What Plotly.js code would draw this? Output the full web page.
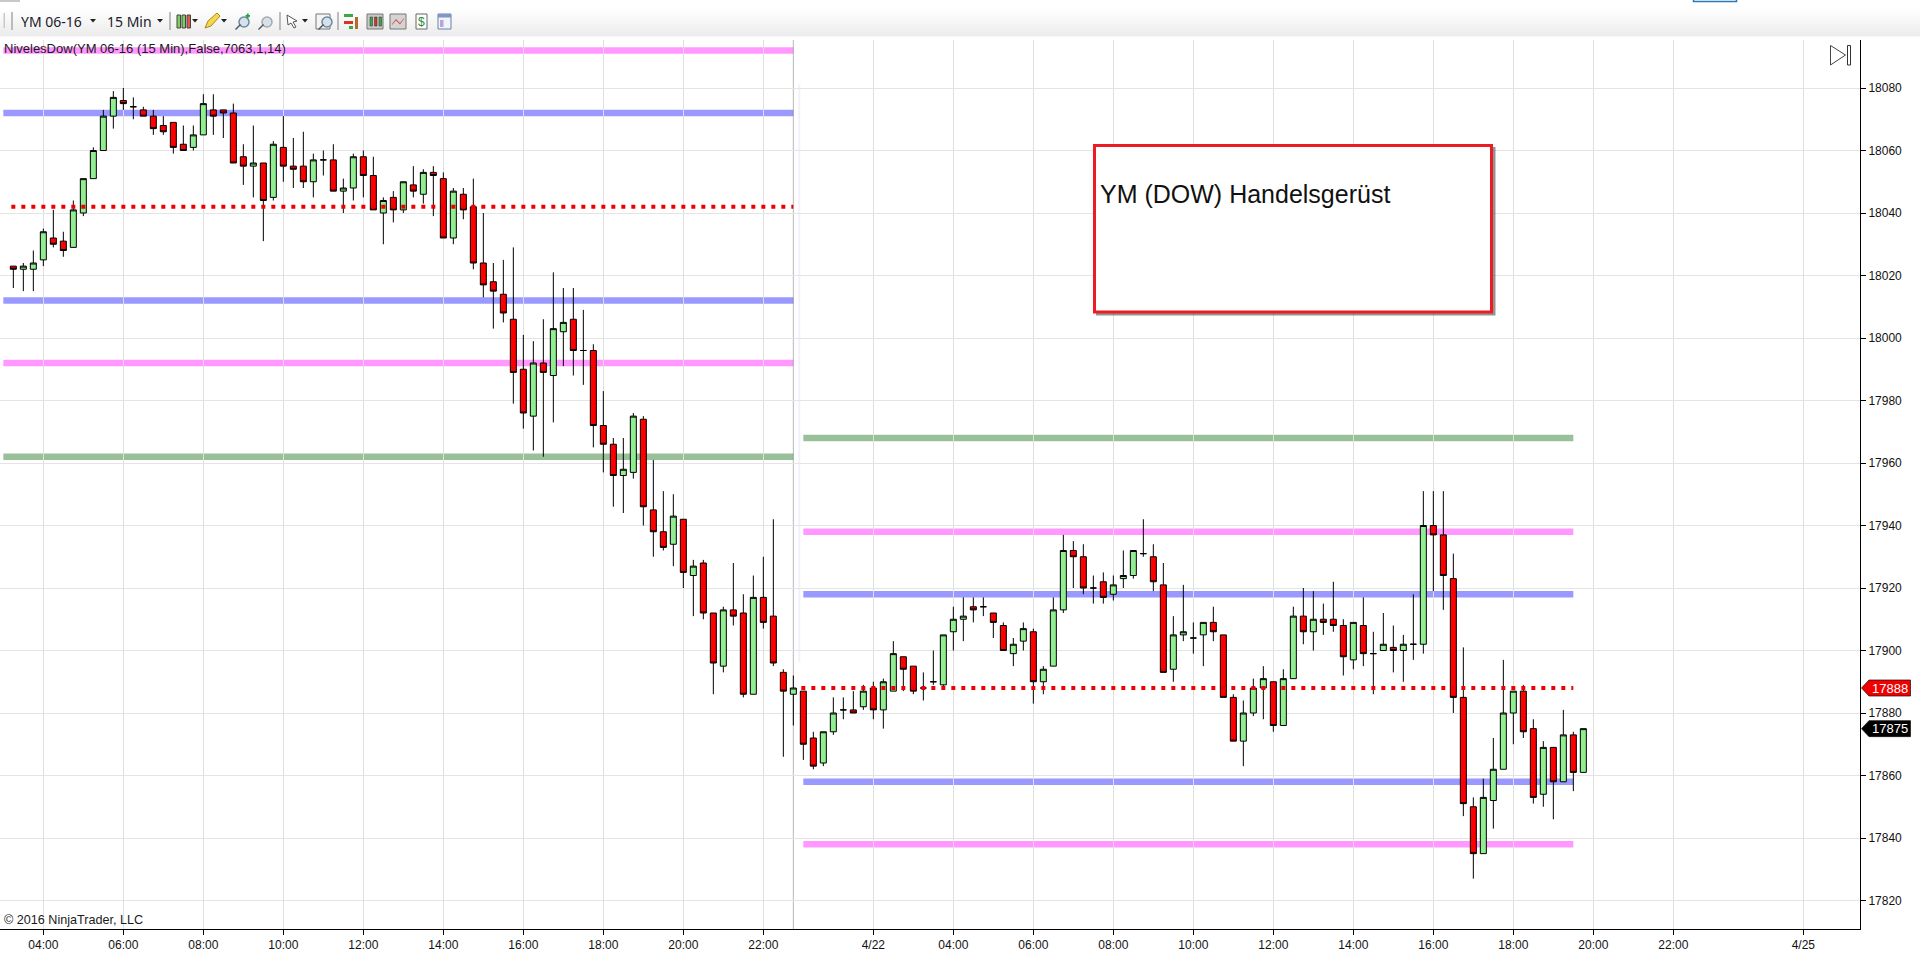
<!DOCTYPE html>
<html>
<head>
<meta charset="utf-8">
<script src="https://cdn.plot.ly/plotly-3.0.1.min.js"></script>
<style>html,body{margin:0;padding:0;background:#fff;overflow:hidden}#chart{width:1920px;height:957px}</style>
</head>
<body>
<div id="chart"></div>
<script>
// ---------- data (one entry per 15-minute bar) ----------
const open = [18023,18022,18022,18025,18032,18031,18029,18040,18051,18060,18071,18076,18074,18073,18071,18068,18069,18062,18061,18065,
18073,18073,18072,18058,18055,18056,18045,18061,18055,18055,18050,18057,18057,18047,18048,18058,18052,18040,18045,18041,
18049,18046,18053,18051,18032,18046,18042,18024,18018,18014,18006,17990,17975,17992,17988,18002,18006,17996,17996,17972,
17966,17956,17957,17974,17945,17938,17934,17942,17924,17928,17912,17895,17913,17912,17886,17917,17911,17893,17886,17887,
17872,17864,17874,17881,17881,17882,17888,17881,17887,17898,17895,17888,17890,17889,17906,17910,17914,17914,17912,17908,
17899,17903,17906,17890,17895,17913,17932,17930,17920,17922,17918,17923,17924,17931,17930,17921,17894,17905,17904,17905,
17909,17905,17885,17871,17880,17888,17890,17876,17891,17911,17906,17910,17910,17908,17897,17908,17899,17900,17901,17900,
17902,17902,17940,17937,17923,17885,17850,17835,17852,17862,17880,17887,17875,17854,17869,17858,17873,17861];
const high = [18023,18024,18028,18035,18041,18034,18044,18051,18061,18073,18079,18080,18077,18074,18073,18071,18069,18068,18068,18078,
18078,18073,18075,18062,18068,18056,18063,18071,18064,18066,18059,18060,18062,18051,18059,18060,18058,18045,18047,18050,
18055,18054,18055,18053,18048,18048,18051,18040,18024,18025,18029,18001,17999,18006,18021,18016,18016,18009,17998,17983,
17968,17968,17976,17975,17961,17951,17950,17942,17929,17929,17912,17914,17928,17918,17924,17930,17942,17894,17892,17887,
17874,17874,17885,17885,17887,17889,17890,17891,17903,17898,17895,17893,17900,17905,17914,17917,17917,17917,17912,17909,
17904,17909,17907,17895,17917,17937,17935,17934,17924,17925,17924,17932,17932,17942,17934,17928,17911,17921,17909,17909,
17914,17905,17886,17884,17891,17895,17890,17894,17914,17920,17919,17915,17922,17910,17909,17917,17906,17912,17908,17905,
17918,17951,17951,17951,17931,17901,17853,17859,17872,17897,17887,17889,17878,17871,17869,17881,17874,17875];
const low = [18016,18015,18015,18023,18029,18026,18029,18039,18051,18060,18067,18073,18070,18071,18065,18065,18059,18060,18060,18065,
18065,18064,18056,18049,18045,18031,18044,18050,18048,18048,18045,18052,18047,18040,18044,18045,18041,18030,18037,18040,
18045,18043,18039,18032,18030,18038,18022,18013,18003,18005,17979,17971,17964,17962,17973,17991,17988,17985,17965,17957,
17946,17944,17955,17940,17930,17932,17927,17920,17911,17910,17886,17893,17908,17885,17886,17907,17895,17866,17876,17865,
17862,17863,17873,17878,17880,17881,17878,17875,17887,17887,17886,17884,17889,17888,17900,17903,17909,17911,17904,17900,
17895,17900,17883,17886,17895,17912,17920,17918,17915,17915,17916,17920,17923,17930,17919,17893,17890,17903,17899,17895,
17903,17885,17871,17863,17879,17878,17874,17876,17891,17902,17900,17905,17906,17892,17894,17895,17886,17900,17893,17890,
17897,17899,17919,17913,17880,17847,17827,17835,17843,17862,17870,17872,17851,17850,17846,17858,17855,17861];
const close = [18022,18023,18024,18034,18030,18028,18041,18051,18060,18071,18077,18075,18074,18071,18067,18066,18061,18060,18065,18075,
18071,18072,18056,18055,18056,18044,18062,18055,18054,18050,18057,18057,18047,18048,18058,18052,18041,18044,18041,18050,
18047,18053,18052,18032,18047,18041,18024,18017,18015,18008,17989,17976,17992,17989,18003,18005,17996,17996,17972,17966,
17956,17958,17975,17946,17938,17933,17943,17925,17927,17912,17896,17913,17911,17886,17917,17909,17896,17887,17888,17870,
17863,17874,17880,17881,17880,17887,17881,17890,17899,17894,17887,17888,17890,17905,17910,17911,17913,17914,17909,17900,
17902,17907,17890,17894,17913,17932,17930,17920,17920,17917,17921,17924,17932,17931,17922,17893,17905,17906,17904,17909,
17906,17885,17871,17880,17888,17891,17876,17891,17911,17906,17910,17909,17908,17898,17909,17899,17899,17902,17900,17902,
17902,17940,17937,17924,17885,17851,17835,17853,17862,17880,17887,17874,17853,17869,17858,17873,17861,17875];

const priceTicks = [17820,17840,17860,17880,17900,17920,17940,17960,17980,18000,18020,18040,18060,18080];
const timeTickBars = [3,11,19,27,35,43,51,59,67,75,86,94,102,110,118,126,134,142,150,158,166,179];
const timeTickText = ['04:00','06:00','08:00','10:00','12:00','14:00','16:00','18:00','20:00','22:00','4/22','04:00','06:00','08:00','10:00','12:00','14:00','16:00','18:00','20:00','22:00','4/25'];

const sessionBreakBar = 78;
const leftBars = [-1,78];
const rightBars = [79,156];
const leftBlue = [18072,18012];
const leftMagenta = [18092,17992];
const leftGreen = [17962];
const leftPivot = 18042;
const rightGreen = [17968];
const rightMagenta = [17938,17838];
const rightBlue = [17918,17858];
const rightPivot = 17888;
const lastPrice = 17875;

// ---------- layout geometry ----------
const W = 1920, H = 957, mL = 0, mR = 60, mT = 40, mB = 28;
const plotW = W - mL - mR, plotH = H - mT - mB;
const pxX = p => (p - mL) / plotW;
const pxY = p => 1 - (p - mT) / plotH;
const barIdx = open.map((_, i) => i);

// ---------- helpers ----------
const shapes = [];
function levelLine(bars, price, color) {
  shapes.push({type:'line', layer:'below', xref:'x', yref:'y', x0:bars[0], x1:bars[1], y0:price, y1:price,
    line:{color:color, width:6.5}});
}
function box(x0, y0, x1, y1, fill, lineColor, lw) {
  shapes.push({type:'rect', layer:'above', xref:'paper', yref:'paper',
    x0:pxX(x0), x1:pxX(x1), y0:pxY(y1), y1:pxY(y0),
    fillcolor:fill || 'rgba(0,0,0,0)', line:{color:lineColor || 'rgba(0,0,0,0)', width:lw === undefined ? 0 : lw}});
}
function pathPx(points, fill, lineColor, lw) {
  const d = points.map((p, i) => (i ? 'L' : 'M') + pxX(p[0]) + ',' + pxY(p[1])).join(' ') + ' Z';
  shapes.push({type:'path', layer:'above', xref:'paper', yref:'paper', path:d,
    fillcolor:fill || 'rgba(0,0,0,0)', line:{color:lineColor || 'rgba(0,0,0,0)', width:lw || 0}});
}
function caret(x) { pathPx([[x-3,19],[x+3,19],[x,22.5]], '#222'); }
function sep(x) { box(x, 12, x+0.01, 30, null, '#a8a8a8', 1); }
function magnifier(x, col) {
  shapes.push({type:'circle', layer:'above', xref:'paper', yref:'paper',
    x0:pxX(x+4), x1:pxX(x+14), y0:pxY(27), y1:pxY(17), fillcolor:'#d5e2ec', line:{color:col, width:1.5}});
  pathPx([[x,29],[x+5,24],[x+6,25],[x+1,30]], '#555');
}

// ---------- indicator level lines (behind the candles) ----------
leftBlue.forEach(v => levelLine(leftBars, v, 'rgba(0,0,255,0.4)'));
leftMagenta.forEach(v => levelLine(leftBars, v, 'rgba(255,0,255,0.4)'));
leftGreen.forEach(v => levelLine(leftBars, v, 'rgba(0,100,0,0.4)'));
rightBlue.forEach(v => levelLine(rightBars, v, 'rgba(0,0,255,0.4)'));
rightMagenta.forEach(v => levelLine(rightBars, v, 'rgba(255,0,255,0.4)'));
rightGreen.forEach(v => levelLine(rightBars, v, 'rgba(0,100,0,0.4)'));
// session break
shapes.push({type:'line', layer:'below', xref:'x', yref:'paper', x0:sessionBreakBar, x1:sessionBreakBar, y0:0, y1:1,
  line:{color:'#b8b8b8', width:1}});
shapes.push({type:'line', layer:'below', xref:'x', yref:'paper', x0:sessionBreakBar+0.6, x1:sessionBreakBar+0.6, y0:0.3, y1:0.95,
  line:{color:'#f1f1fa', width:2}});

// ---------- toolbar ----------
const bandColors = ['#ffffff','#fdfdfd','#fcfcfc','#fbfbfb','#f9f9f9','#f8f8f8','#f6f6f6','#f5f5f5','#f3f3f3','#f2f2f2','#f0f0f0','#efefef','#eeeeee','#ededed'];
bandColors.forEach((c, i) => box(0, 8 + i*2, W, 8 + (i+1)*2 + 0.5, c));
box(0, 0, 20, 2, '#c9c9c9');
box(1693.5, -3, 1736.5, 1.5, '#ffffff', '#2a78b5', 1.5);
box(3.5, 13, 5, 28, '#c8c8c8');
sep(12); sep(170); sep(280); sep(338);
[93,160,195,224,305].forEach(caret);
// candle-type icon
[[177,'#7fd060'],[182,'#7fd060'],[187,'#e05a4a']].forEach(c => { box(c[0], 15, c[0]+3.5, 28, c[1], '#444', 1); });
// pencil icon
pathPx([[205,28],[208,21],[217,13],[220,16],[211,26]], '#f6d64a', '#a88820', 1);
// add-drawing magnifier
magnifier(235, '#6b8aa0');
box(245.5, 15, 250, 16.8, '#22a63c'); box(246.9, 13.5, 248.6, 18.3, '#22a63c');
magnifier(258, '#a8a8a8');
// pointer icon
pathPx([[287,15],[297,21],[293,22],[296,27],[294,28],[291,23],[288,25]], '#ffffff', '#555', 1);
// search-in-box icon
box(316, 14, 330, 29, '#f4f4f4', '#777', 1);
magnifier(318, '#6b8aa0');
// chart-trader icon
box(344, 14, 353, 17, '#39a845'); box(344, 21, 353, 24, '#d8322a'); box(355, 17, 358, 29, '#b06c2a'); box(349, 26, 353, 29, '#39a845');
// indicators icon
box(367, 14, 383, 29, '#c8c8c8', '#777', 1);
[[370,'#39a845'],[374.5,'#d8322a'],[379,'#39a845']].forEach(c => box(c[0], 17, c[0]+2.5, 26, c[1], '#333', 0.5));
// strategies icon
box(390, 14, 406, 29, '#d4d4d4', '#777', 1);
pathPx([[392,24],[396,19],[400,23],[404,18],[404,19],[400,24.5],[396,20.5],[392,25]], '#d8504a');
// money icon
box(416, 14, 427, 29, '#ffffff', '#666', 1);
// data icon
box(438, 14, 451, 29, '#f2f4fb', '#6a80a8', 1);
box(438, 14, 451, 17.5, '#7f97c4');
box(440, 20, 443.5, 27, '#b9a4dc');

// ---------- right-edge play marker ----------
pathPx([[1830.5,45.5],[1845.5,55],[1830.5,65]], '#ffffff', '#444', 1);
box(1847.5, 45.5, 1850.5, 65, '#ffffff', '#333', 1);

// ---------- text box ----------
box(1096, 147, 1495.5, 315.5, 'rgba(60,60,60,0.55)');
box(1094.5, 145.5, 1491.5, 312, '#ffffff', '#ed1c24', 3);

// ---------- price flags ----------
function flag(price, fill) {
  const y = 900.5 - (price - 17820) * 3.125;
  pathPx([[1861.5,y],[1869,y-8],[1910.5,y-8],[1910.5,y+8],[1869,y+8]], fill, '#111', 0.7);
}
flag(rightPivot, '#f00000');
flag(lastPrice, '#000000');

// ---------- text ----------
function label(text, x, y, size, color, anchor, family) {
  return {text:text, xref:'paper', yref:'paper', x:pxX(x), y:pxY(y), showarrow:false,
    xanchor:anchor || 'left', yanchor:'middle', align:anchor || 'left',
    font:{family:family || 'Liberation Sans, Arial, sans-serif', size:size, color:color || '#111'}};
}
const annotations = [
  label('YM 06-16', 19, 22, 14, '#1a1a2a', 'left', 'Noto Sans, sans-serif'),
  label('15 Min', 105, 22, 14, '#1a1a2a', 'left', 'Noto Sans, sans-serif'),
  label('NivelesDow(YM 06-16 (15 Min),False,7063,1,14)', 2, 48.5, 13, '#1a1a1a'),
  label('© 2016 NinjaTrader, LLC', 2, 920, 12.6, '#1a1a1a'),
  label('YM (DOW) Handelsgerüst', 1098, 194, 25, '#111'),
  label('17888', 1889.5, 688, 13, '#ffffff', 'center'),
  label('17875', 1889.5, 728.5, 13, '#ffffff', 'center'),
  label('$', 421.5, 21.5, 12, '#2a8a3a', 'center')
];

// ---------- traces ----------
const candles = {
  type:'candlestick', x:barIdx, open:open, high:high, low:low, close:close,
  increasing:{line:{color:'#000000', width:1}, fillcolor:'#90ee90'},
  decreasing:{line:{color:'#000000', width:1}, fillcolor:'#ff0000'},
  whiskerwidth:0, hoverinfo:'skip', showlegend:false
};
const pivotStyle = {color:'#ee0000', width:4, dash:'4px,6px'};
const pivotLeft = {type:'scatter', mode:'lines', x:[leftBars[0]+0.8, leftBars[1]], y:[leftPivot, leftPivot], line:pivotStyle, hoverinfo:'skip', showlegend:false};
const pivotRight = {type:'scatter', mode:'lines', x:[rightBars[0]-0.2, rightBars[1]], y:[rightPivot, rightPivot], line:pivotStyle, hoverinfo:'skip', showlegend:false};

const layout = {
  width:W, height:H, autosize:false,
  margin:{l:mL, r:mR, t:mT, b:mB, pad:0},
  paper_bgcolor:'#ffffff', plot_bgcolor:'#ffffff',
  showlegend:false, boxgap:0.4, boxgroupgap:0,
  xaxis:{
    type:'linear', range:[-1.3333, 184.6667], rangeslider:{visible:false},
    tickmode:'array', tickvals:timeTickBars, ticktext:timeTickText,
    showgrid:true, gridcolor:'#dfdfdf', gridwidth:1, zeroline:false,
    showline:true, linecolor:'#000', linewidth:1,
    ticks:'outside', ticklen:5, tickcolor:'#000', tickwidth:1,
    tickfont:{family:'Liberation Sans, Arial, sans-serif', size:12, color:'#111'}, tickangle:0
  },
  yaxis:{
    type:'linear', side:'right', range:[17810.88, 18095.36],
    tickmode:'array', tickvals:priceTicks, ticktext:priceTicks.map(String),
    showgrid:true, gridcolor:'#e4e4e4', gridwidth:1, zeroline:false,
    showline:true, linecolor:'#000', linewidth:1,
    ticks:'outside', ticklen:5, tickcolor:'#000', tickwidth:1,
    tickfont:{family:'Liberation Sans, Arial, sans-serif', size:12, color:'#111'}
  },
  shapes:shapes, annotations:annotations
};
Plotly.newPlot('chart', [candles, pivotLeft, pivotRight], layout, {staticPlot:true, displayModeBar:false});
</script>
</body>
</html>
